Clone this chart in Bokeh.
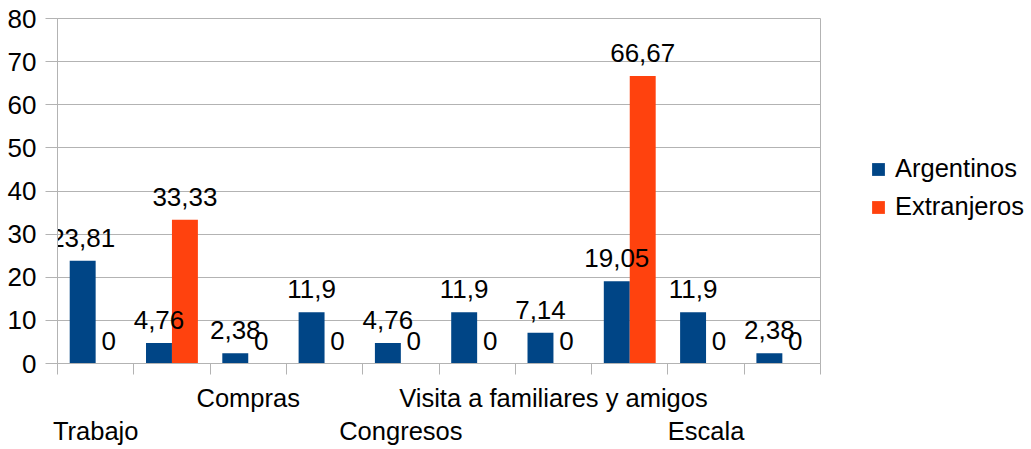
from bokeh.plotting import figure
from bokeh.models import (Range1d, FixedTicker, LinearAxis, Legend, LegendItem,
                          ColumnDataSource)
from bokeh.core.properties import value
from bokeh.embed import file_html
from bokeh.resources import INLINE

# ---- data ----
categories = ["Trabajo", "", "Compras", "", "Congresos", "",
              "Visita a familiares y amigos", "", "Escala", ""]
argentinos = [23.81, 4.76, 2.38, 11.9, 4.76, 11.9, 7.14, 19.05, 11.9, 2.38]
extranjeros = [0, 33.33, 0, 0, 0, 0, 0, 66.67, 0, 0]
series_names = ["Argentinos", "Extranjeros"]
y_ticks = [0, 10, 20, 30, 40, 50, 60, 70, 80]

# ---- style ----
BLUE = "#004586"
ORANGE = "#ff420e"
GRID = "#b3b3b3"
FONT = "Liberation Sans"
FS_NUM = "26px"
FS_TXT = "25.5px"
BAR_W = 0.34

n = len(categories)
centers = [i + 0.5 for i in range(n)]

def fmt(v):
    return f"{v:g}".replace(".", ",")

src = ColumnDataSource(dict(
    xa=[c - BAR_W / 2 for c in centers],
    xe=[c + BAR_W / 2 for c in centers],
    a=argentinos, e=extranjeros,
    la=[fmt(v) for v in argentinos],
    le=[fmt(v) for v in extranjeros],
))

p = figure(frame_width=763, frame_height=345,
           x_range=Range1d(0, n), y_range=Range1d(0, y_ticks[-1]),
           output_backend="svg", toolbar_location=None,
           min_border_left=57, min_border_top=18, min_border_right=211,
           min_border_bottom=86)
p.background_fill_color = "white"
p.border_fill_color = "white"
p.outline_line_color = GRID

ra = p.vbar(x="xa", top="a", width=BAR_W, bottom=0, source=src,
            fill_color=BLUE, line_color=None)
re_ = p.vbar(x="xe", top="e", width=BAR_W, bottom=0, source=src,
             fill_color=ORANGE, line_color=None)

for xcol, ycol, lcol in (("xa", "a", "la"), ("xe", "e", "le")):
    p.text(x=xcol, y=ycol, text=lcol, source=src, text_align="center",
           text_baseline="alphabetic", y_offset=-23,
           text_font=value(FONT), text_font_size=FS_NUM, text_color="black")

# grid
p.xgrid.visible = False
p.ygrid.ticker = FixedTicker(ticks=y_ticks)
p.ygrid.grid_line_color = GRID

# y axis
ya = p.yaxis[0]
ya.ticker = FixedTicker(ticks=y_ticks)
ya.axis_line_color = GRID
ya.major_tick_line_color = GRID
ya.major_tick_out = 12
ya.major_tick_in = 0
ya.minor_tick_line_color = None
ya.major_label_standoff = 9
ya.major_label_text_font = FONT
ya.major_label_text_font_size = FS_NUM
ya.major_label_text_color = "black"

labeled = [i for i, c in enumerate(categories) if c]
upper = labeled[1::2]
lower = labeled[0::2]

# x axis: boundary ticks (minor) + upper row of category labels
xa = p.xaxis[0]
xa.ticker = FixedTicker(ticks=[centers[i] for i in upper],
                        minor_ticks=list(range(n + 1)))
xa.major_label_overrides = {centers[i]: categories[i] for i in upper}
xa.axis_line_color = GRID
xa.major_tick_line_color = None
xa.major_tick_out = 11
xa.major_tick_in = 0
xa.minor_tick_line_color = GRID
xa.minor_tick_out = 11
xa.minor_tick_in = 0
xa.major_label_standoff = 9
xa.major_label_text_font = FONT
xa.major_label_text_font_size = FS_TXT
xa.major_label_text_color = "black"

# lower row of category labels
ax2 = LinearAxis(ticker=FixedTicker(ticks=[centers[i] for i in lower]),
                 major_label_overrides={centers[i]: categories[i] for i in lower},
                 axis_line_color=None, major_tick_line_color=None,
                 minor_tick_line_color=None, major_tick_out=0, major_tick_in=0,
                 major_label_standoff=2, major_label_text_font=FONT,
                 major_label_text_font_size=FS_TXT, major_label_text_color="black")
p.add_layout(ax2, "below")

legend = Legend(items=[LegendItem(label=series_names[0], renderers=[ra]),
                       LegendItem(label=series_names[1], renderers=[re_])],
                location=(50, 142), glyph_width=16, glyph_height=16,
                label_standoff=9, spacing=9, padding=0, margin=0,
                border_line_color=None, background_fill_alpha=0,
                label_text_font=FONT, label_text_font_size=FS_TXT,
                label_text_color="black")
p.add_layout(legend, "right")

open("out.html", "w").write(file_html(p, INLINE))
